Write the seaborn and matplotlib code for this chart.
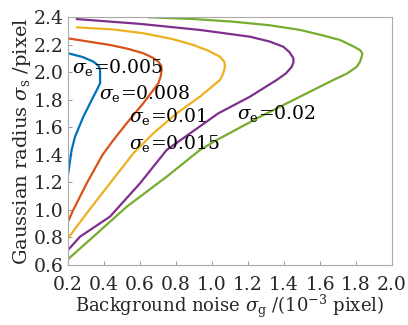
import pandas as pd
import matplotlib
matplotlib.use("Agg")
import matplotlib.pyplot as plt
import seaborn as sns

# --- curve data (x: background noise, y: gaussian radius) ---
labels = ["0.005", "0.008", "0.01", "0.015", "0.02"]

x_005 = [0.20, 0.28, 0.341, 0.37, 0.378, 0.378, 0.36, 0.341, 0.285, 0.239, 0.22, 0.20]
y_005 = [2.137, 2.11, 2.076, 2.045, 2.015, 1.919, 1.87, 1.822, 1.676, 1.531, 1.435, 1.253]

x_008 = [0.20, 0.433, 0.53, 0.618, 0.67, 0.702, 0.718, 0.72, 0.715, 0.702, 0.618, 0.526,
         0.452, 0.392, 0.304, 0.229, 0.20]
y_008 = [2.245, 2.197, 2.17, 2.137, 2.105, 2.076, 2.045, 2.015, 1.97, 1.919, 1.774, 1.629,
         1.507, 1.40, 1.193, 0.999, 0.915]

x_01 = [0.248, 0.45, 0.618, 0.78, 0.896, 0.98, 1.044, 1.068, 1.072, 1.062, 1.044, 0.933,
        0.804, 0.674, 0.563, 0.433, 0.304, 0.20]
y_01 = [2.325, 2.31, 2.282, 2.24, 2.197, 2.155, 2.112, 2.075, 2.039, 1.99, 1.943, 1.822,
        1.701, 1.556, 1.411, 1.193, 0.976, 0.794]

x_015 = [0.248, 0.60, 0.933, 1.211, 1.32, 1.396, 1.43, 1.452, 1.452, 1.443, 1.41, 1.359,
         1.211, 1.035, 0.748, 0.60, 0.433, 0.267, 0.20]
y_015 = [2.385, 2.35, 2.306, 2.257, 2.222, 2.184, 2.145, 2.10, 2.07, 2.039, 1.99, 1.943,
         1.822, 1.701, 1.435, 1.193, 0.951, 0.806, 0.709]

x_02 = [0.646, 0.90, 1.118, 1.32, 1.489, 1.62, 1.711, 1.78, 1.822, 1.835, 1.831, 1.822,
        1.804, 1.75, 1.674, 1.489, 1.267, 1.026, 0.933, 0.748, 0.526, 0.341, 0.20]
y_02 = [2.398, 2.385, 2.366, 2.34, 2.306, 2.265, 2.233, 2.19, 2.16, 2.135, 2.112, 2.075,
        2.039, 1.99, 1.943, 1.822, 1.676, 1.507, 1.435, 1.241, 1.023, 0.806, 0.642]

xs = [x_005, x_008, x_01, x_015, x_02]
ys = [y_005, y_008, y_01, y_015, y_02]

# label anchor positions (data coords)
label_x = [0.222, 0.374, 0.541, 0.541, 1.137]
label_y = [2.03, 1.846, 1.677, 1.483, 1.70]

x_ticks = [0.2, 0.4, 0.6, 0.8, 1.0, 1.2, 1.4, 1.6, 1.8, 2.0]
y_ticks = [0.6, 0.8, 1.0, 1.2, 1.4, 1.6, 1.8, 2.0, 2.2, 2.4]

colors = ["#0072BD", "#D95319", "#EDB120", "#7E2F8E", "#77AC30"]

rows = []
for lab, xv, yv in zip(labels, xs, ys):
    for i, (a, b) in enumerate(zip(xv, yv)):
        rows.append({"curve": lab, "order": i, "noise": a, "radius": b})
df = pd.DataFrame(rows)

sns.set_theme(style="white")
plt.rcParams["font.family"] = ["DejaVu Serif"]
plt.rcParams["mathtext.fontset"] = "dejavuserif"

fig = plt.figure(figsize=(4.08, 3.25), dpi=100)
ax = fig.add_axes([0.1667, 0.1846, 0.7943, 0.7631])

sns.lineplot(data=df, x="noise", y="radius", hue="curve", units="curve",
             estimator=None, sort=False, palette=colors, hue_order=labels,
             linewidth=1.6, legend=False, ax=ax)

for lab, lx, ly in zip(labels, label_x, label_y):
    ax.text(lx, ly, r"$\sigma_{\mathrm{e}}$=" + lab, fontsize=13.5,
            ha="left", va="center", color="black")

ax.set_xlim(0.2, 2.0)
ax.set_ylim(0.6, 2.4)
ax.set_xticks(x_ticks)
ax.set_yticks(y_ticks)
ax.set_xticklabels([f"{v:.1f}" for v in x_ticks])
ax.set_yticklabels([f"{v:.1f}" for v in y_ticks])
ax.tick_params(direction="in", length=3, width=0.6, color="#888888",
               labelsize=13.5, bottom=True, left=True)
ax.tick_params(axis="x", pad=8)
ax.tick_params(axis="y", pad=3)
for s in ax.spines.values():
    s.set_color("#aaaaaa")
    s.set_linewidth(0.8)

ax.set_xlabel(r"Background noise $\sigma_{\mathrm{g}}$ /(10$^{-3}$ pixel)", fontsize=13, labelpad=-1)
ax.set_ylabel(r"Gaussian radius $\sigma_{\mathrm{s}}$ /pixel", fontsize=14, labelpad=1)

fig.savefig("out.png", dpi=100)
